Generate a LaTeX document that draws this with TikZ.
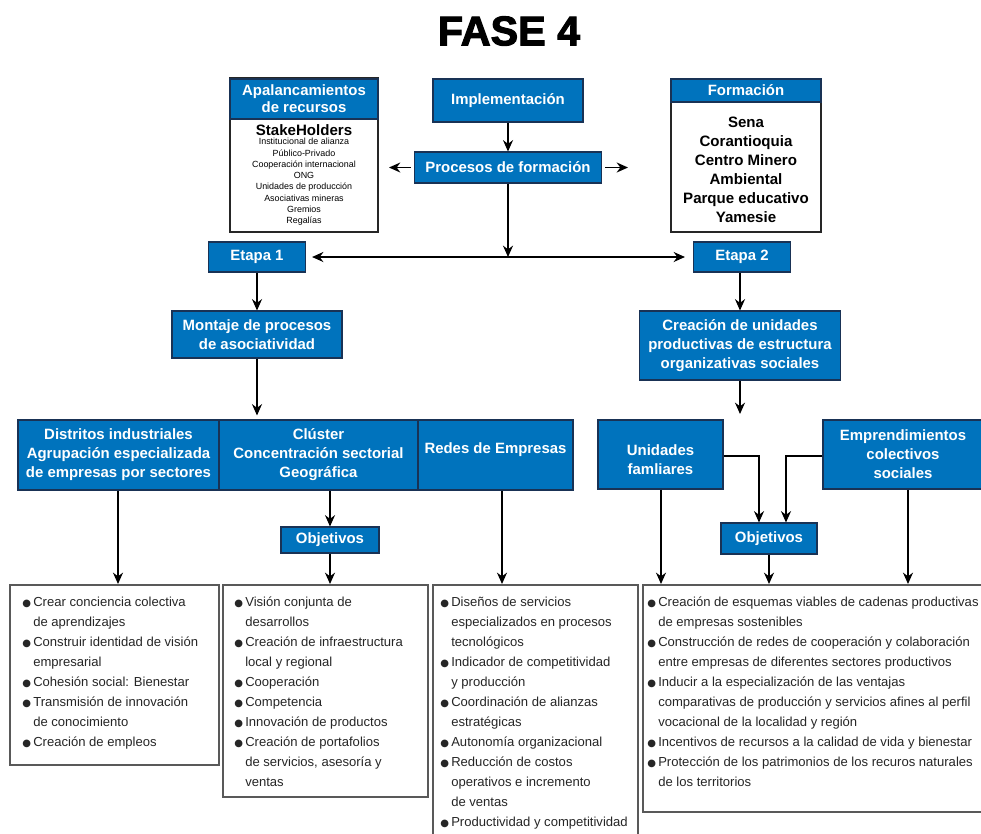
\documentclass[tikz,border=0pt]{standalone}
\usepackage{fontspec}
\setmainfont{Liberation Sans}
\newfontfamily\titlefont{Liberation Sans}[UprightFont={* Bold},FakeBold=2.5]
\newfontfamily\symfont{DejaVu Sans}
\usetikzlibrary{arrows.meta}
\definecolor{bl}{RGB}{0,115,189}
\definecolor{bd}{RGB}{25,50,85}
\newdimen\px \px=0.75pt
\newcommand{\bu}{\makebox[11\px][l]{{\symfont\fontsize{7.5}{8}\selectfont ●}}}
\newcommand{\ci}{\hspace*{11\px}}
\tikzset{
  bb/.style={fill=bl, draw=bd, line width=0.8pt, text=white, align=center, inner sep=0pt,
    font=\bfseries\fontsize{11.2}{14.25}\selectfont},
  btx/.style={text=white, align=center, inner sep=0pt, font=\bfseries\fontsize{11.2}{14.25}\selectfont},
  wb/.style={draw=black!65, line width=1.5pt, fill=white, inner sep=0pt},
  hb/.style={draw=black!85, line width=1pt, fill=white, inner sep=0pt},
  lst/.style={anchor=north west, align=left, inner sep=0pt, text=black!85,
    font=\fontsize{9.8}{15}\selectfont},
  ar/.style={-{Stealth[length=8.5pt,width=7.5pt]}, line width=1.3pt},
  dar/.style={{Stealth[length=8.5pt,width=7.5pt]}-{Stealth[length=8.5pt,width=7.5pt]}, line width=1.3pt},
}
\begin{document}
\begin{tikzpicture}[x=0.75pt,y=-0.75pt]
\useasboundingbox (0,0) rectangle (981,833);
\fill[white] (0,0) rectangle (981,833);

% title
\node (title) at (509,31) {\titlefont\fontsize{31}{31}\selectfont FASE 4};

% top left box
\node[hb, minimum width=148\px, minimum height=154\px] (apal) at (304,155) {};
\node[bb, minimum width=148\px, minimum height=40\px, font=\bfseries\fontsize{11.2}{12.75}\selectfont] (apalh) at (304,99) {Apalancamientos\\de recursos};
\node[font=\bfseries\fontsize{11.3}{11}\selectfont, inner sep=0pt] (stake) at (304,130) {StakeHolders};
\node[anchor=north, align=center, inner sep=0pt, font=\fontsize{6.7}{8.45}\selectfont] (stakel) at (304,138)
 {Institucional de alianza\\Público-Privado\\Cooperación internacional\\ONG\\Unidades de producción\\Asociativas mineras\\Gremios\\Regalías};

% top right box
\node[hb, minimum width=150\px, minimum height=153\px] (form) at (746,155.5) {};
\node[bb, minimum width=150\px, minimum height=23\px] (formh) at (746,90.5) {Formación};
\node[align=center, inner sep=0pt, font=\bfseries\fontsize{11.3}{14.25}\selectfont] (forml) at (746,170)
 {Sena\\Corantioquia\\Centro Minero\\Ambiental\\Parque educativo\\Yamesie};

% center
\node[bb, minimum width=150\px, minimum height=43\px] (impl) at (508,100.5) {Implementación};
\node[bb, minimum width=187\px, minimum height=31\px] (proc) at (508,167.5) {Procesos de formación};
\node[bb, minimum width=97\px, minimum height=30\px] (et1) at (257,257) {Etapa 1};
\node[bb, minimum width=97\px, minimum height=30\px] (et2) at (742,257) {Etapa 2};
\node[bb, minimum width=170\px, minimum height=47\px] (mont) at (257,334.5) {Montaje de procesos\\de asociatividad};
\node[bb, minimum width=201\px, minimum height=69\px] (crea) at (740,345.5) {Creación de unidades\\productivas de estructura\\organizativas sociales};

% row
\node[bb, minimum width=201\px, minimum height=70\px] (dist) at (118.5,455) {Distritos industriales\\Agrupación especializada\\de empresas por sectores};
\node[bb, minimum width=199\px, minimum height=70\px] (clus) at (318.5,455) {Clúster\\Concentración sectorial\\Geográfica};
\node[bb, minimum width=155\px, minimum height=70\px] (redes) at (495.5,455) {};
\node[btx] (redest) at (495.5,450) {Redes de Empresas};
\node[bb, minimum width=125\px, minimum height=69\px] (unid) at (660.5,454.5) {};
\node[btx] (unidt) at (660.5,459.5) {Unidades\\famliares};
\node[bb, minimum width=160\px, minimum height=69\px] (empr) at (903,454.5) {Emprendimientos\\colectivos\\sociales};
\node[bb, minimum width=98\px, minimum height=26\px] (obj1) at (330,540) {Objetivos};
\node[bb, minimum width=96\px, minimum height=31\px] (obj2) at (769,538.5) {Objetivos};

% bottom boxes
\node[wb, minimum width=209\px, minimum height=180\px] (b1) at (114.5,675) {};
\node[wb, minimum width=205\px, minimum height=212\px] (b2) at (325.5,691) {};
\node[wb, minimum width=205\px, minimum height=265\px] (b3) at (535.5,717.5) {};
\node[wb, minimum width=347\px, minimum height=227\px] (b4) at (816.5,698.5) {};

\node[lst] (t1) at (22,597) {\bu Crear conciencia colectiva\\ \ci de aprendizajes\\ \bu Construir identidad de visión\\ \ci empresarial\\ \bu Cohesión social: Bienestar\\ \bu Transmisión de innovación\\ \ci de conocimiento\\ \bu Creación de empleos};
\node[lst] (t2) at (234,597) {\bu Visión conjunta de\\ \ci desarrollos\\ \bu Creación de infraestructura\\ \ci local y regional\\ \bu Cooperación\\ \bu Competencia\\ \bu Innovación de productos\\ \bu Creación de portafolios\\ \ci de servicios, asesoría y\\ \ci ventas};
\node[lst] (t3) at (440,597) {\bu Diseños de servicios\\ \ci especializados en procesos\\ \ci tecnológicos\\ \bu Indicador de competitividad\\ \ci y producción\\ \bu Coordinación de alianzas\\ \ci estratégicas\\ \bu Autonomía organizacional\\ \bu Reducción de costos\\ \ci operativos e incremento\\ \ci de ventas\\ \bu Productividad y competitividad};
\node[lst] (t4) at (647,597) {\bu Creación de esquemas viables de cadenas productivas\\ \ci de empresas sostenibles\\ \bu Construcción de redes de cooperación y colaboración\\ \ci entre empresas de diferentes sectores productivos\\ \bu Inducir a la especialización de las ventajas\\ \ci comparativas de producción y servicios afines al perfil\\ \ci vocacional de la localidad y región\\ \bu Incentivos de recursos a la calidad de vida y bienestar\\ \bu Protección de los patrimonios de los recuros naturales\\ \ci de los territorios};

% connectors
\coordinate (pl) at (389,167.5);
\coordinate (pr) at (628,167.5);
\coordinate (cend) at (740,414);
\draw[ar] (impl) -- (proc);
\draw[ar] ([xshift=-3\px]proc.west) -- (pl);
\draw[ar] ([xshift=3\px]proc.east) -- (pr);
\draw[dar, shorten <=6\px, shorten >=8\px] (et1.east) -- (et2.west);
\draw[ar] (proc.south) -- (proc.south |- et1.east);
\draw[ar] (et1) -- (mont);
\draw[ar, shorten >=4\px] (mont.south) -- (mont.south |- clus.north);
\draw[ar] (crea.north |- et2.south) -- (crea.north);
\draw[ar] (crea.south) -- (cend);
\draw[ar] ([yshift=-1.5\px]unid.east) -| ([xshift=-10\px]obj2.north);
\draw[ar] ([yshift=-1.5\px]empr.west) -| ([xshift=17\px]obj2.north);
\draw[ar] ([xshift=0.5\px]unid.south) -- ([xshift=0.5\px]unid.south |- b4.north);
\draw[ar] (obj2) -- (obj2.south |- b4.north);
\draw[ar] ([xshift=5\px]empr.south) -- ([xshift=5\px]empr.south |- b4.north);
\draw[ar] ([xshift=-0.5\px]dist.south) -- ([xshift=-0.5\px]dist.south |- b1.north);
\draw[ar] (obj1.north |- clus.south) -- (obj1.north);
\draw[ar] (obj1) -- (obj1.south |- b2.north);
\draw[ar] ([xshift=6.5\px]redes.south) -- ([xshift=6.5\px]redes.south |- b3.north);
\end{tikzpicture}
\end{document}
